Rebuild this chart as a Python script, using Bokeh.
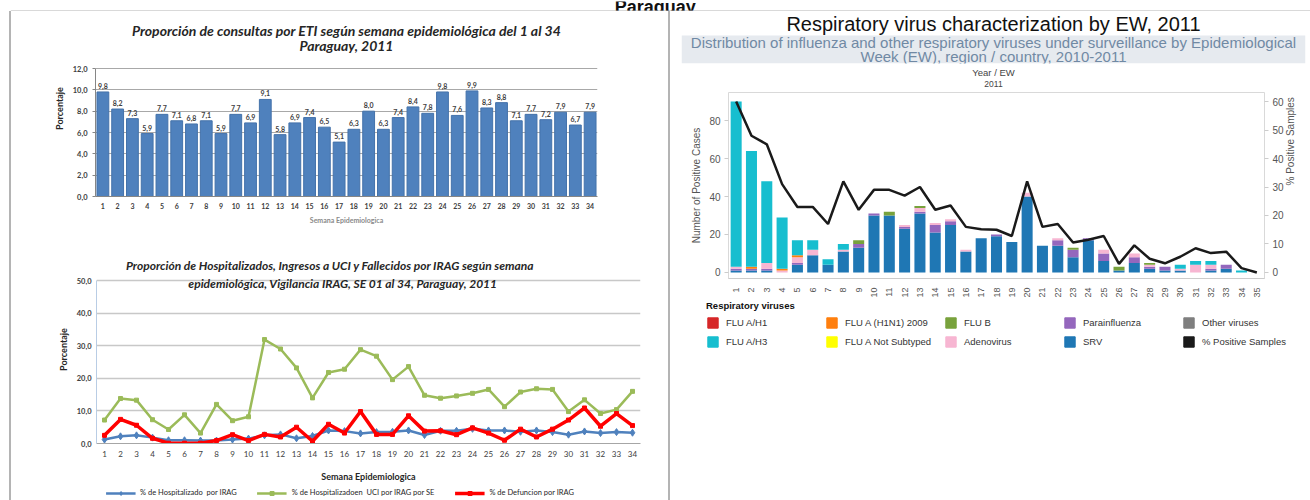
import math
from bokeh.plotting import figure
from bokeh.models import (FactorRange, Range1d, LinearAxis, Title, Label, Legend, LegendItem,
                          ColumnDataSource, FixedTicker, CustomJSTickFormatter, Span, Div,
                          BoxAnnotation)
from bokeh.layouts import row, column
from bokeh.embed import file_html
from bokeh.resources import INLINE
from bokeh.core.properties import value

# ---------------- data ----------------
weeks_eti = [str(i) for i in range(1, 35)]
eti_pct = [9.8, 8.2, 7.3, 5.9, 7.7, 7.1, 6.8, 7.1, 5.9, 7.7, 6.9, 9.1, 5.8, 6.9, 7.4, 6.5, 5.1,
           6.3, 8.0, 6.3, 7.4, 8.4, 7.8, 9.8, 7.6, 9.9, 8.3, 8.8, 7.1, 7.7, 7.2, 7.9, 6.7, 7.9]

weeks_irag = list(range(1, 35))
hosp_irag = [1.2, 2.2, 2.5, 1.8, 1.0, 1.0, 0.9, 0.9, 1.2, 1.5, 2.5, 2.8, 1.6, 2.3, 4.0, 3.8, 3.1,
             3.5, 3.6, 4.0, 2.6, 3.9, 3.9, 4.5, 4.0, 4.0, 3.6, 4.0, 3.5, 2.7, 3.7, 3.2, 3.5, 3.3]
uci_irag = [7.2, 13.8, 13.3, 7.3, 4.3, 8.8, 3.2, 12.0, 7.0, 8.2, 31.9, 29.0, 23.2, 14.0, 21.8, 22.8, 28.8,
            26.8, 19.6, 23.6, 14.8, 13.9, 14.6, 15.4, 16.6, 11.3, 15.8, 16.8, 16.6, 9.8, 13.4, 9.2, 10.4, 16.0]
defun_irag = [2.5, 7.4, 5.6, 1.6, 0.1, 0.1, 0.1, 0.9, 2.7, 0.9, 2.8, 2.0, 5.0, 0.7, 5.9, 3.2, 9.8,
              2.8, 2.8, 8.5, 3.8, 3.9, 2.7, 4.8, 3.2, 1.0, 4.4, 2.0, 4.4, 7.2, 10.9, 5.3, 9.2, 5.5]
irag_labels = ["% de Hospitalizado  por IRAG", "% de Hospitalizadoen  UCI por IRAG por SE",
               "% de Defuncion por IRAG"]

weeks_virus = [str(i) for i in range(1, 36)]
srv = [1, 1, 1, 0, 4, 9, 4, 11, 13, 30, 30, 23, 31, 21, 25, 11, 18, 19, 16, 40, 14, 14, 8, 17, 6,
       1, 5, 2, 1, 1, 0, 1, 2, 0, 0]
parainfluenza = [1, 1, 1, 0, 1, 0, 0, 0, 2, 1, 0, 1, 1, 4, 2, 0, 0, 1, 0, 0, 0, 3, 4, 1, 4,
                 0, 3, 1, 2, 0, 0, 1, 2, 0, 0]
adenovirus = [1, 0, 3, 1, 3, 3, 0, 1, 0, 0, 0, 1, 2, 1, 1, 1, 0, 0, 0, 2, 0, 1, 0, 0, 2,
              0, 2, 1, 0, 1, 4, 2, 0, 0, 0]
other_viruses = [0] * 35
flu_a_h1 = [0] * 35
flu_a_h1n1_2009 = [0, 1, 0, 1, 1, 0, 0, 0, 0, 0, 0, 0, 0, 0, 0, 0, 0, 0, 0, 0, 0, 0, 0, 0, 0,
                   0, 0, 0, 0, 0, 0, 0, 0, 0, 0]
flu_a_not_subtyped = [0] * 35
flu_b = [0, 0, 0, 0, 0, 0, 0, 0, 2, 0, 2, 0, 1, 0, 0, 0, 0, 0, 0, 0, 0, 0, 1, 0, 0,
         2, 0, 1, 0, 0, 0, 0, 0, 0, 0]
flu_a_h3 = [87, 61, 43, 27, 8, 5, 3, 3, 0, 0, 0, 0, 0, 0, 0, 0, 0, 0, 0, 0, 0, 0, 0, 0, 0,
            0, 0, 0, 0, 2, 2, 2, 0, 1, 0]
pos_samples = [60, 48, 45, 31, 23, 23, 17, 32, 22, 29, 29, 27, 30, 22, 23.5, 16, 15.2, 15, 12.8, 32,
               16, 17, 10.5, 11.5, 12.8, 3, 9.5, 4.8, 3.2, 5.5, 8.5, 6.8, 7.3, 1.5, 0]

# ---------------- styles ----------------
CAL = "Lato"
ARI = "Liberation Sans"
RULE = "#b4b4b4"
comma_fmt = CustomJSTickFormatter(code="return tick.toFixed(1).replace('.', ',');")
nan = float("nan")


def base(p):
    p.toolbar.logo = None
    p.border_fill_color = "white"
    p.background_fill_color = "white"
    p.outline_line_color = None
    if "frame_align" in p.properties():
        p.frame_align = False


def blank(w, h, yr=(0, 1), **kw):
    p = figure(width=w, height=h, x_range=Range1d(0, 1), y_range=Range1d(*yr),
               x_axis_location=None, y_axis_location=None, output_backend="svg",
               toolbar_location=None, **kw)
    base(p)
    p.grid.visible = False
    return p


def title_label(x, y, text, size):
    return Label(x=x, y=y, text=text, text_align="center", text_baseline="middle", text_font=CAL,
                 text_font_size=size, text_font_style="bold italic", text_color="#262626")


# ---------------- top strip ----------------
top = blank(1310, 11, min_border_left=10, min_border_right=0, min_border_top=0, min_border_bottom=1)
top.add_layout(Label(x=0.496, y=0.45, text="Paraguay", text_align="center", text_baseline="alphabetic",
                     text_font=ARI, text_font_size="18px", text_font_style="bold",
                     text_color="#111111"))
top.add_layout(Span(location=0, dimension="width", line_color=RULE, line_width=2))

# ---------------- panel 1 : ETI bars ----------------
p1 = figure(width=657, height=227, x_range=FactorRange(factors=weeks_eti), y_range=Range1d(0, 16.5),
            output_backend="svg", toolbar_location=None,
            min_border_left=84, min_border_right=71, min_border_top=9, min_border_bottom=42)
base(p1)
p1.add_layout(title_label(17.0, 15.56, "Proporción de consultas por ETI según semana epidemiológica "
                          "del 1 al 34", "14px"))
p1.add_layout(title_label(17.0, 14.15, "Paraguay, 2011", "14px"))
p1.vbar(x=weeks_eti, top=eti_pct, width=0.8, fill_color="#4f81bd", line_color="#4472aa")
src1 = ColumnDataSource(dict(x=weeks_eti, y=eti_pct,
                             t=[f"{v:.1f}".replace(".", ",") for v in eti_pct]))
p1.text(x="x", y="y", text="t", source=src1, y_offset=-3, text_align="center",
        text_baseline="bottom", text_font=value(CAL), text_font_size="7px",
        text_font_style="bold", text_color="#404040")
p1.yaxis.ticker = FixedTicker(ticks=[0, 2, 4, 6, 8, 10, 12])
p1.yaxis.bounds = (0, 12)
p1.yaxis.formatter = comma_fmt
p1.yaxis.axis_label = "Porcentaje"
for ax in (p1.xaxis[0], p1.yaxis[0]):
    ax.axis_line_color = "#868686"
    ax.major_label_text_font = CAL
    ax.major_label_text_font_style = "bold"
    ax.major_label_text_color = "#404040"
    ax.axis_label_text_font = CAL
    ax.axis_label_text_font_style = "bold"
    ax.axis_label_text_color = "#262626"
    ax.minor_tick_line_color = None
p1.yaxis.major_label_text_font_size = "7.5px"
p1.yaxis.axis_label_text_font_size = "9px"
p1.yaxis.major_tick_line_color = "#868686"
p1.yaxis.major_tick_out = 3
p1.yaxis.major_tick_in = 0
p1.xaxis.major_label_text_font_size = "7px"
p1.xaxis.major_tick_line_color = None
p1.xaxis.major_tick_out = 0
p1.xaxis.major_label_standoff = 6
p1.xaxis.axis_label = "Semana Epidemiologica"
p1.xaxis.axis_label_text_font_size = "7px"
p1.xaxis.axis_label_text_color = "#8a8a8a"
p1.xaxis.axis_label_standoff = 4
p1.xgrid.grid_line_color = None
p1.ygrid.grid_line_color = "#a8a8a8"

# ---------------- panel 2 : IRAG lines ----------------
p2 = figure(width=657, height=247, x_range=Range1d(0.5, 34.5), y_range=Range1d(0, 57.7),
            output_backend="svg", toolbar_location=None,
            min_border_left=85, min_border_right=28, min_border_top=17, min_border_bottom=42)
base(p2)
p2.add_layout(title_label(15.1, 54.6, "Proporción de Hospitalizados, Ingresos a UCI y Fallecidos por "
                          "IRAG según semana", "12px"))
p2.add_layout(title_label(15.9, 49.1, "epidemiológica, Vigilancia IRAG, SE 01 al 34, Paraguay, 2011",
                          "12px"))
series = [(hosp_irag, "#4f81bd", 2.5, "diamond", 7), (uci_irag, "#9bbb59", 2.5, "square", 4),
          (defun_irag, "#ff0000", 3.5, "square", 4)]
for vals, col, lw, mk, ms in series:
    p2.line(x=weeks_irag, y=vals, line_color=col, line_width=lw)
    p2.scatter(x=weeks_irag, y=vals, marker=mk, size=ms, fill_color=col, line_color=col)
p2.xaxis.ticker = FixedTicker(ticks=weeks_irag)
p2.yaxis.ticker = FixedTicker(ticks=[0, 10, 20, 30, 40, 50])
p2.yaxis.bounds = (0, 50)
p2.yaxis.formatter = comma_fmt
p2.yaxis.axis_label = "Porcentaje"
p2.xaxis.axis_label = "Semana Epidemiologica"
for ax in (p2.xaxis[0], p2.yaxis[0]):
    ax.major_label_text_font = CAL
    ax.major_label_text_color = "#404040"
    ax.axis_label_text_font = CAL
    ax.axis_label_text_font_style = "bold"
    ax.axis_label_text_color = "#262626"
    ax.axis_label_text_font_size = "9px"
    ax.minor_tick_line_color = None
    ax.major_tick_line_color = None
    ax.major_tick_out = 0
p2.yaxis.major_label_text_font_size = "7.5px"
p2.yaxis.major_label_text_font_style = "bold"
p2.yaxis.axis_line_color = "#b9cde5"
p2.xaxis.axis_line_color = "#a6a6a6"
p2.xaxis.major_label_text_font_size = "8px"
p2.xaxis.major_label_standoff = 7
p2.xaxis.axis_label_standoff = 11
p2.xgrid.grid_line_color = None
p2.ygrid.grid_line_color = "#c8c8c8"
p2.ygrid.grid_line_width = 1.5

# legend strip for panel 2
p2l = blank(657, 15, min_border_left=0, min_border_right=0, min_border_top=0, min_border_bottom=0)
items2 = []
for (vals, col, lw, mk, ms), lab in zip(series, irag_labels):
    r1 = p2l.line(x=[nan], y=[nan], line_color=col, line_width=lw)
    r2 = p2l.scatter(x=[nan], y=[nan], marker=mk, size=ms, fill_color=col, line_color=col)
    items2.append(LegendItem(label=lab, renderers=[r1, r2]))
leg2 = Legend(items=items2, orientation="horizontal", location="center", label_text_font=CAL,
              label_text_font_size="7.5px", label_text_color="#262626", glyph_width=30,
              glyph_height=10, label_height=10, spacing=20, padding=0, margin=0,
              border_line_color=None, background_fill_alpha=0)
p2l.add_layout(leg2)

# ---------------- panel 3 : header ----------------
ph = blank(640, 78, yr=(0, 52 / 28), min_border_left=11, min_border_right=5, min_border_top=0,
           min_border_bottom=26)
ph.add_layout(BoxAnnotation(bottom=0, top=1, fill_color="#e6eaef", fill_alpha=1.0, line_color=None,
                            level="underlay"))
ph.add_layout(Label(x=0.5, y=1.42, text="Respiratory virus characterization by EW, 2011",
                    text_align="center", text_baseline="middle", text_font=ARI,
                    text_font_size="20px", text_color="#111111"))
ph.add_layout(Label(x=0.5, y=0.74, text="Distribution of influenza and other respiratory viruses under "
                    "surveillance by Epidemiological", text_align="center", text_baseline="middle",
                    text_font=ARI, text_font_size="15px", text_color="#7089a4"))
ph.add_layout(Label(x=0.5, y=0.26, text="Week (EW), region / country, 2010-2011", text_align="center",
                    text_baseline="middle", text_font=ARI, text_font_size="15px",
                    text_color="#7089a4"))
ph.add_layout(Title(text="Year / EW", align="center", text_font=ARI, text_font_size="9.5px",
                    text_font_style="normal", text_color="#444444", standoff=2), "below")
ph.add_layout(Title(text="2011", align="center", text_font=ARI, text_font_size="8.5px",
                    text_font_style="normal", text_color="#444444", standoff=1), "below")

# ---------------- panel 3 : stacked bars ----------------
stack_keys = ["srv", "para", "adeno", "other", "h1", "h1n1", "notsub", "flub", "h3"]
stack_vals = [srv, parainfluenza, adenovirus, other_viruses, flu_a_h1, flu_a_h1n1_2009,
              flu_a_not_subtyped, flu_b, flu_a_h3]
stack_cols = ["#1f77b4", "#9467bd", "#f7b6d2", "#7f7f7f", "#d62728", "#ff7f0e", "#ffff00",
              "#78a23c", "#17becf"]
src3 = ColumnDataSource(dict(week=weeks_virus, **dict(zip(stack_keys, stack_vals))))
Y0, Y1 = -3.2, 94.8
p3 = figure(width=640, height=211, x_range=FactorRange(factors=weeks_virus),
            y_range=Range1d(Y0, Y1), output_backend="svg", toolbar_location=None,
            min_border_left=58, min_border_right=46, min_border_top=3, min_border_bottom=4)
base(p3)
p3.outline_line_color = "#d9d9d9"
p3.extra_y_ranges = {"pct": Range1d(Y0 / 1.5, Y1 / 1.5)}
p3.vbar_stack(stack_keys, x="week", width=0.72, color=stack_cols, line_color=None, source=src3)
p3.line(x=weeks_virus, y=pos_samples, y_range_name="pct", line_color="#1a1a1a", line_width=2.5)
ry = LinearAxis(y_range_name="pct", axis_label="% Positive Samples")
p3.add_layout(ry, "right")
p3.yaxis[0].ticker = FixedTicker(ticks=[0, 20, 40, 60, 80])
p3.yaxis[0].axis_label = "Number of Positive Cases"
ry.ticker = FixedTicker(ticks=[0, 10, 20, 30, 40, 50, 60])
for ax in (p3.yaxis[0], ry):
    ax.axis_line_color = None
    ax.major_tick_line_color = "#cccccc"
    ax.major_tick_out = 4
    ax.major_tick_in = 0
    ax.minor_tick_line_color = None
    ax.major_label_text_font = ARI
    ax.major_label_text_font_size = "10px"
    ax.major_label_text_color = "#555555"
    ax.axis_label_text_font = ARI
    ax.axis_label_text_font_size = "10px"
    ax.axis_label_text_font_style = "normal"
    ax.axis_label_text_color = "#555555"
    ax.major_label_standoff = 4
    ax.axis_label_standoff = 4
if "axis_label_orientation" in ry.properties():
    ry.axis_label_orientation = math.pi / 2
p3.xaxis.axis_line_color = "#cccccc"
p3.xaxis.major_tick_line_color = None
p3.xaxis.minor_tick_line_color = None
p3.xaxis.major_label_orientation = math.pi / 2
p3.xaxis.major_label_text_font = ARI
p3.xaxis.major_label_text_font_size = "9px"
p3.xaxis.major_label_text_color = "#555555"
p3.xaxis.major_label_standoff = 3
p3.grid.grid_line_color = None

# ---------------- panel 3 : legend ----------------
legend_names = ["FLU A/H1", "FLU A (H1N1) 2009", "FLU B", "Parainfluenza", "Other viruses",
                "FLU A/H3", "FLU A Not Subtyped", "Adenovirus", "SRV", "% Positive Samples"]
legend_cols = ["#d62728", "#ff7f0e", "#78a23c", "#9467bd", "#7f7f7f",
               "#17becf", "#ffff00", "#f7b6d2", "#1f77b4", "#1a1a1a"]
p4 = blank(640, 200, min_border_left=36, min_border_right=0, min_border_top=0, min_border_bottom=0)
items = []
for nm, c in zip(legend_names, legend_cols):
    r = p4.quad(left=[nan], right=[nan], top=[nan], bottom=[nan], fill_color=c, line_color=c)
    items.append(LegendItem(label=nm, renderers=[r]))
leg4 = Legend(items=items, title="Respiratory viruses", orientation="horizontal", ncols=5,
              location="top_left", margin=0, padding=0, spacing=6, glyph_width=13, glyph_height=13,
              label_height=13, label_width=93, label_standoff=7, border_line_color=None,
              background_fill_alpha=0, label_text_font=ARI, label_text_font_size="9.5px",
              label_text_color="#333333", title_text_font=ARI, title_text_font_size="9.5px",
              title_text_font_style="bold", title_text_color="#111111", title_standoff=5)
p4.add_layout(leg4)


def rule(w, h, color):
    return Div(text="", width=w, height=h, margin=0,
               styles={"background-color": color} if color else {})


body = row(rule(9, 489, None), rule(2, 489, RULE), column(p1, p2, p2l), rule(2, 489, RULE),
           column(ph, p3, p4))
layout = column(top, body)
open("out.html", "w").write(file_html(layout, INLINE))
